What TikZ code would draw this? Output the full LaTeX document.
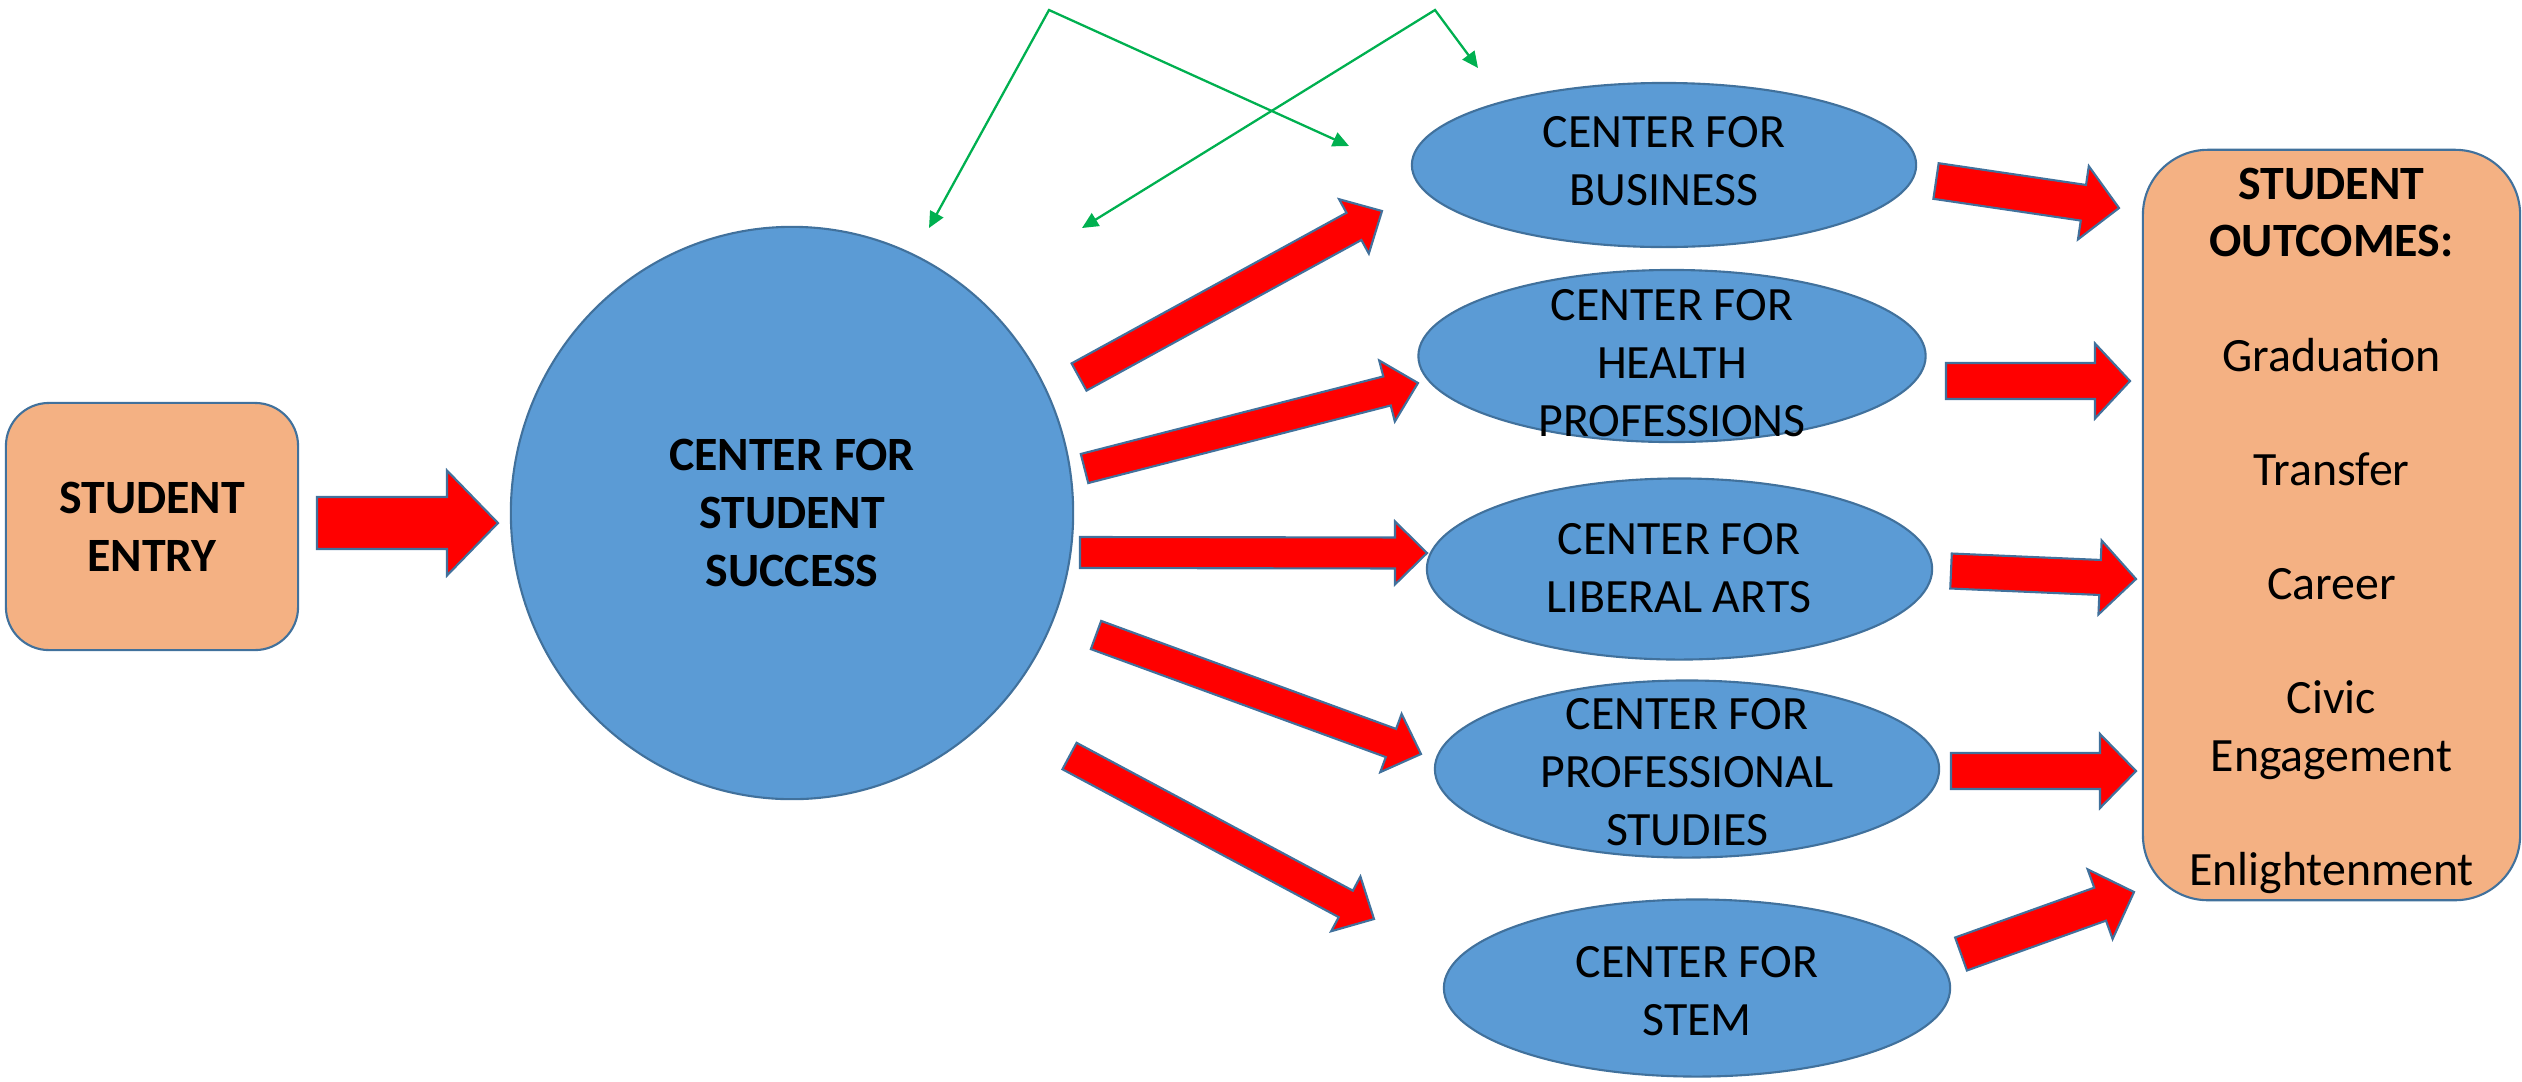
\documentclass[tikz,border=0pt]{standalone}
\usepackage{fontspec}
\setmainfont{Carlito}
\usetikzlibrary{calc,arrows.meta,shapes.geometric}
\definecolor{fillblue}{HTML}{5B9BD5}
\definecolor{edgeblue}{HTML}{41719C}
\definecolor{orangefill}{HTML}{F4B183}
\definecolor{arrowgreen}{HTML}{00B050}
\newcommand\blockarrow[5]{%
  \coordinate (hb) at ($(#2)!#5!(#1)$);
  \draw[redarrow] ($(#1)!#3!90:(#2)$) -- ($(hb)!#3!-90:(#1)$) -- ($(hb)!#4!-90:(#1)$) -- (#2)
    -- ($(hb)!#4!90:(#1)$) -- ($(hb)!#3!90:(#1)$) -- ($(#1)!#3!-90:(#2)$) -- cycle;}
\begin{document}
\begin{tikzpicture}[x=0.01cm,y=-0.01cm,
  txt/.style={font=\fontsize{13.6}{16.4}\selectfont, align=center, inner sep=0pt},
  rbox/.style={draw=edgeblue, fill=orangefill, line width=0.6pt, inner sep=0pt},
  cellipse/.style={ellipse, draw=edgeblue, fill=fillblue, line width=0.6pt, inner sep=0pt},
  redarrow/.style={draw=edgeblue, fill=red, line width=0.6pt, line join=miter},
  greenarrow/.style={draw=arrowgreen, line width=0.65pt,
    {Triangle[length=4.6pt,width=4.2pt]}-{Triangle[length=4.6pt,width=4.2pt]}}]
\useasboundingbox (0,0) rectangle (2522,1081);
% student entry
\node[rbox, txt, minimum width=2.92cm, minimum height=2.47cm, rounded corners=0.43cm] (entry) at (152,526.5)
  {\bfseries STUDENT\\\bfseries ENTRY};
% center for student success
\node[cellipse, txt, minimum width=5.62cm, minimum height=5.72cm] (css) at (792,513)
  {\bfseries CENTER FOR\\\bfseries STUDENT\\\bfseries SUCCESS};
% centers
\node[cellipse, minimum width=5.04cm, minimum height=1.64cm] (bus) at (1664,165) {};
\node[cellipse, minimum width=5.07cm, minimum height=1.72cm] (hea) at (1672,356) {};
\node[cellipse, minimum width=5.05cm, minimum height=1.81cm] (lib) at (1679.5,569) {};
\node[cellipse, minimum width=5.04cm, minimum height=1.77cm] (pro) at (1687,769) {};
\node[cellipse, minimum width=5.06cm, minimum height=1.77cm] (stem) at (1697,988) {};
\node[txt] (tbus) at (1664,161) {CENTER FOR\\BUSINESS};
\node[txt] (thea) at (1672,363) {CENTER FOR\\HEALTH\\PROFESSIONS};
\node[txt] (tlib) at (1679,568) {CENTER FOR\\LIBERAL ARTS};
\node[txt] (tpro) at (1687,772) {CENTER FOR\\PROFESSIONAL\\STUDIES};
\node[txt] (tstem) at (1697,991) {CENTER FOR\\STEM};
% outcomes
\node[rbox, minimum width=3.77cm, minimum height=7.5cm, rounded corners=0.65cm] (out) at (2331.5,525) {};
\node[txt, anchor=north] (tout) at (2331.5,167)
  {\bfseries STUDENT\\\bfseries OUTCOMES:\\[16.1pt]Graduation\\[16.1pt]Transfer\\[16.1pt]Career\\[16.1pt]Civic\\Engagement\\[16.1pt]Enlightenment};
% block arrows
\coordinate (e0t) at (317,523);    \coordinate (e0h) at (498,523);
\coordinate (a1t) at (1079,377);   \coordinate (a1h) at (1382,211);
\coordinate (a2t) at (1084.5,468.5); \coordinate (a2h) at (1418,383);
\coordinate (a3t) at (1080,552.5); \coordinate (a3h) at (1427,553);
\coordinate (a4t) at (1096,635);   \coordinate (a4h) at (1421,754);
\coordinate (a5t) at (1069.5,756); \coordinate (a5h) at (1374,919);
\coordinate (b1t) at (1936,181);   \coordinate (b1h) at (2119,208);
\coordinate (b2t) at (1946,381);   \coordinate (b2h) at (2130,381);
\coordinate (b3t) at (1951,571);   \coordinate (b3h) at (2136,579);
\coordinate (b4t) at (1951,771);   \coordinate (b4h) at (2136,771);
\coordinate (b5t) at (1961,954);   \coordinate (b5h) at (2134,892);
\blockarrow{e0t}{e0h}{0.26cm}{0.525cm}{0.51cm}
\blockarrow{a1t}{a1h}{0.155cm}{0.31cm}{0.32cm}
\blockarrow{a2t}{a2h}{0.15cm}{0.315cm}{0.32cm}
\blockarrow{a3t}{a3h}{0.155cm}{0.315cm}{0.32cm}
\blockarrow{a4t}{a4h}{0.15cm}{0.31cm}{0.32cm}
\blockarrow{a5t}{a5h}{0.15cm}{0.31cm}{0.32cm}
\blockarrow{b1t}{b1h}{0.18cm}{0.37cm}{0.36cm}
\blockarrow{b2t}{b2h}{0.18cm}{0.375cm}{0.35cm}
\blockarrow{b3t}{b3h}{0.175cm}{0.37cm}{0.36cm}
\blockarrow{b4t}{b4h}{0.18cm}{0.37cm}{0.36cm}
\blockarrow{b5t}{b5h}{0.175cm}{0.37cm}{0.36cm}
% green connectors
\coordinate (g1a) at (1049,10); \coordinate (g1l) at (929,228); \coordinate (g1r) at (1349,146);
\coordinate (g2a) at (1435,10); \coordinate (g2l) at (1082,228); \coordinate (g2r) at (1478,68);
\draw[greenarrow] (g1l) -- (g1a) -- (g1r);
\draw[greenarrow] (g2l) -- (g2a) -- (g2r);
\end{tikzpicture}
\end{document}
